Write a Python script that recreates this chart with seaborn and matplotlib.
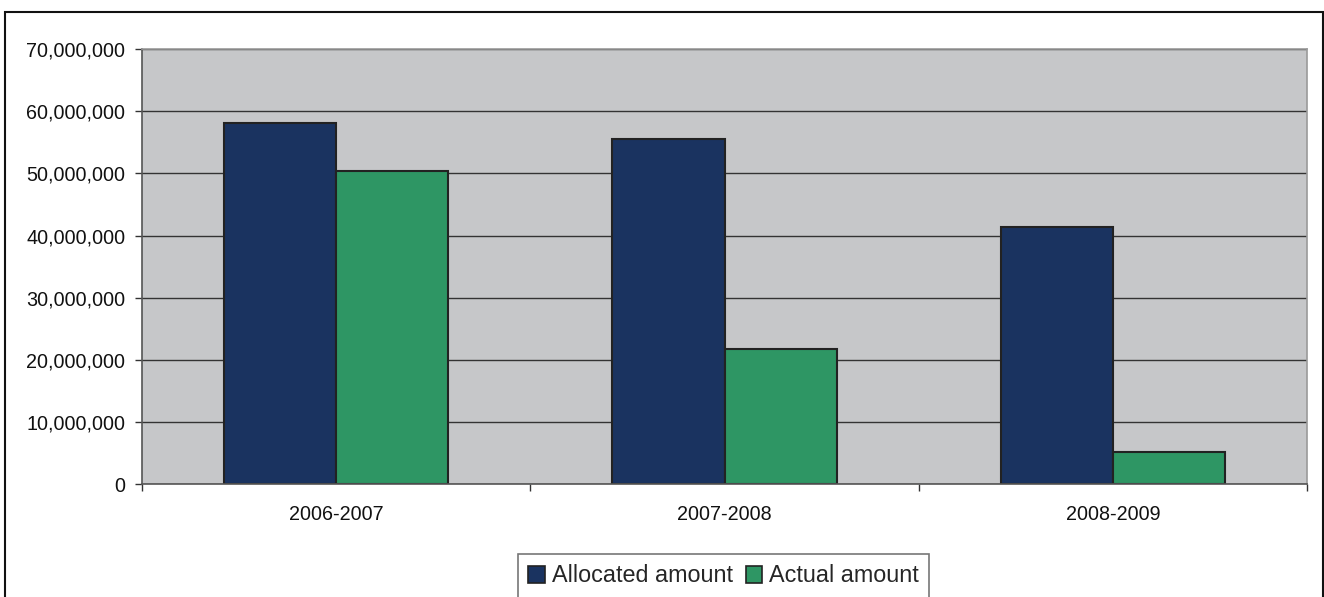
import matplotlib
matplotlib.use("Agg")
import matplotlib.pyplot as plt
import matplotlib.patches as mpatches
from matplotlib.ticker import FuncFormatter, MultipleLocator, FixedLocator
import seaborn as sns
import pandas as pd

periods = ["2006-2007", "2007-2008", "2008-2009"]
allocated = [58100000, 55500000, 41300000]
actual = [50400000, 21800000, 5200000]
series_names = ["Allocated amount", "Actual amount"]
colors = ["#1A3360", "#2E9664"]

df = pd.DataFrame({
    "period": periods * 2,
    "amount": allocated + actual,
    "series": [series_names[0]] * 3 + [series_names[1]] * 3,
})

sns.set_theme(style="white")
plt.rcParams["font.family"] = ["Liberation Sans", "DejaVu Sans"]

fig = plt.figure(figsize=(13.24, 5.97), dpi=100)
ax = fig.add_axes([0.1073, 0.1888, 0.8799, 0.7291])
ax.set_facecolor("#C6C7C9")

sns.barplot(data=df, x="period", y="amount", hue="series", order=periods,
            hue_order=series_names, palette=colors, width=0.578,
            edgecolor="#222222", linewidth=1.5, saturation=1, ax=ax, legend=False)

ax.set_ylim(0, 70000000)
ax.set_xlim(-0.5, 2.5)
ax.yaxis.set_major_locator(MultipleLocator(10000000))
ax.yaxis.set_major_formatter(FuncFormatter(lambda v, p: f"{int(v):,}"))
ax.set_axisbelow(True)
ax.yaxis.grid(True, color="#333333", linewidth=1)
ax.xaxis.grid(False)
ax.set_xlabel("")
ax.set_ylabel("")

for s in ["top", "right"]:
    ax.spines[s].set_visible(True)
    ax.spines[s].set_color("#9A9A9A")
    ax.spines[s].set_linewidth(1.2)
for s in ["left", "bottom"]:
    ax.spines[s].set_visible(True)
    ax.spines[s].set_color("#555555")
    ax.spines[s].set_linewidth(1.2)

ax.tick_params(axis="y", which="major", direction="out", length=5, width=1,
               color="#333333", labelsize=14.2, pad=7, labelcolor="#111111", left=True)
ax.tick_params(axis="x", which="major", length=0, labelsize=14.2, pad=15,
               labelcolor="#111111")
ax.xaxis.set_minor_locator(FixedLocator([-0.5, 0.5, 1.5, 2.5]))
ax.tick_params(axis="x", which="minor", direction="out", length=5, width=1,
               color="#333333", bottom=True)

handles = [mpatches.Patch(facecolor=c, edgecolor="#222222", linewidth=1.2, label=n)
           for c, n in zip(colors, series_names)]
leg = fig.legend(handles=handles, loc="upper center", bbox_to_anchor=(0.5465, 1 - 554 / 597),
                 ncol=2, fontsize=16.8, frameon=True, fancybox=False,
                 handlelength=0.7, handleheight=0.7, handletextpad=0.3,
                 columnspacing=0.55, borderpad=0.45, borderaxespad=0)
leg.get_frame().set_edgecolor("#555555")
leg.get_frame().set_linewidth(1.2)

border = mpatches.Rectangle((5 / 1324, -0.01), (1322.5 - 5) / 1324, 1 - 12 / 597 + 0.01,
                            transform=fig.transFigure, fill=False,
                            edgecolor="#111111", linewidth=1.5)
fig.patches.append(border)

fig.savefig("out.png", dpi=100, facecolor="white")
